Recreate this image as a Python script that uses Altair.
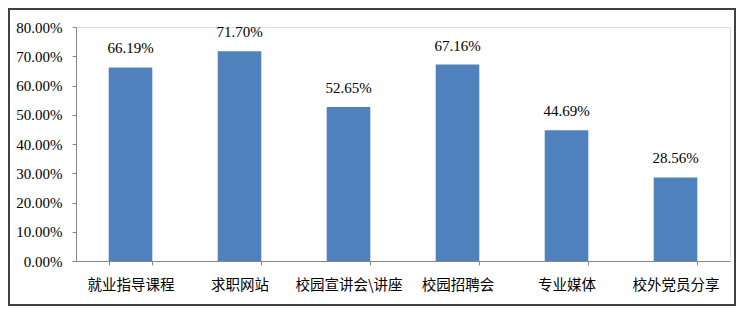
import altair as alt
import pandas as pd

categories = ["就业指导课程", "求职网站", "校园宣讲会\\讲座", "校园招聘会", "专业媒体", "校外党员分享"]
values = [66.19, 71.70, 52.65, 67.16, 44.69, 28.56]
y_ticks = [0, 0.1, 0.2, 0.3, 0.4, 0.5, 0.6, 0.7, 0.8]

df = pd.DataFrame({"cat": categories, "val": [v / 100 for v in values]})

x_enc = alt.X("cat:N", sort=categories, title=None,
              scale=alt.Scale(paddingInner=0.6, paddingOuter=0.3),
              axis=alt.Axis(labelAngle=0, tickBand="extent", domainColor="#868686",
                            tickColor="#868686", tickSize=4, labelPadding=13,
                            labelFont="Noto Sans CJK SC", labelFontSize=14.5,
                            labelColor="#000000"))
y_enc = alt.Y("val:Q", title=None,
              scale=alt.Scale(domain=[0, 0.8]),
              axis=alt.Axis(values=y_ticks, format=".2%", grid=False, labelOverlap=False,
                            domainColor="#868686", tickColor="#868686", tickSize=4,
                            labelPadding=10, labelFont="Liberation Serif",
                            labelFontSize=15, labelColor="#000000"))

base = alt.Chart(df)
bars = base.mark_bar(color="#4F81BD").encode(x=x_enc, y=y_enc)
text = base.mark_text(dy=-11, baseline="bottom", font="Liberation Serif", fontSize=15,
                      color="#000000").encode(
    x=x_enc,
    y=y_enc,
    text=alt.Text("val:Q", format=".2%"),
)
frame = alt.Chart(pd.DataFrame({"a": [0]})).mark_rect(
    fillOpacity=0, stroke="#404040", strokeWidth=2
).encode(x=alt.value(-67), x2=alt.value(659), y=alt.value(-18), y2=alt.value(278))

chart = alt.layer(bars, text, frame).properties(
    width=654, height=234,
    autosize=alt.AutoSizeParams(type="none"),
    padding={"left": 68, "top": 19, "right": 6, "bottom": 45},
).configure_view(stroke=None).configure(background="white")

chart.save("out.html", embed_options={"renderer": "svg", "actions": False})
